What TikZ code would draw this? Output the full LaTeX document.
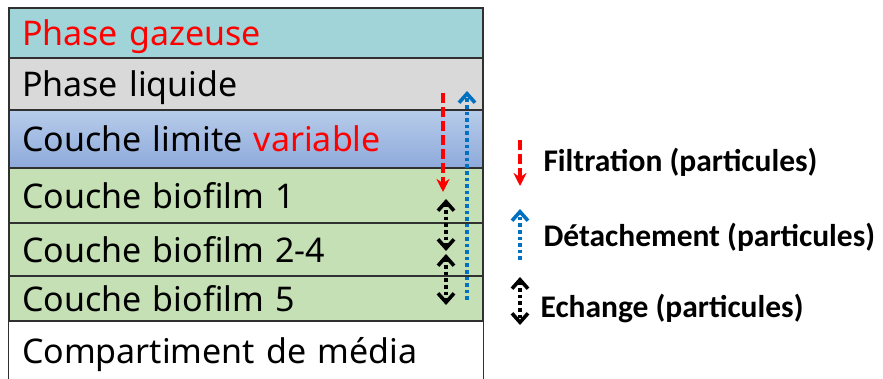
\documentclass[tikz,border=0pt]{standalone}
\usepackage{fontspec}
\setmainfont{Noto Sans}
\newfontfamily\legfont{Carlito}
\usepackage{xcolor}
\usetikzlibrary{arrows.meta}
\definecolor{gazcol}{HTML}{A0D4D8}
\definecolor{liqcol}{HTML}{D9D9D9}
\definecolor{limtop}{HTML}{B7CCEA}
\definecolor{limbot}{HTML}{8EAADB}
\definecolor{biocol}{HTML}{C5E0B4}
\definecolor{filtred}{HTML}{FF0000}
\definecolor{detblue}{HTML}{0070C0}
\definecolor{edgecol}{HTML}{303030}

\begin{document}
\begin{tikzpicture}[x=1pt, y=-1pt,
        layer/.style={draw=edgecol, line width=1.4pt, minimum width=474pt,
                      text width=448pt, inner xsep=13pt, inner ysep=0pt,
                      text height=29pt, text depth=3pt,
                      align=left, font=\fontsize{34}{38}\selectfont},
        leg/.style={anchor=west, font=\legfont\bfseries\fontsize{31.5}{34}\selectfont},
        filt/.style={-{Stealth[length=13pt,width=13pt]}, filtred, line width=4pt,
                     dash pattern=on 10pt off 4pt},
        detach/.style={-{Straight Barb[length=9pt,width=16pt,line width=3.6pt]}, detblue,
                       line width=3.6pt, dash pattern=on 3.6pt off 3pt},
        ech/.style={{Straight Barb[length=9pt,width=16pt,line width=3.6pt]}-{Straight Barb[length=9pt,width=16pt,line width=3.6pt]},
                    black, line width=3.6pt, dash pattern=on 3.6pt off 3pt}
    ]
        \useasboundingbox (0,0) rectangle (883,379);
        % couches
        \node[layer, fill=gazcol, minimum height=50pt] (gaz) at (246,33)
            {\textcolor{filtred}{Phase gazeuse}};
        \node[layer, fill=liqcol, minimum height=52pt] (liq) at (246,84) {Phase liquide};
        \node[layer, top color=limtop, bottom color=limbot, minimum height=58pt] (lim) at (246,139)
            {Couche limite \textcolor{filtred}{variable}};
        \node[layer, fill=biocol, minimum height=55pt] (bioA) at (246,195.5) {Couche biofilm 1};
        \node[layer, fill=biocol, minimum height=53pt] (bioB) at (246,249.5) {Couche biofilm 2-4};
        \node[layer, fill=biocol, minimum height=45pt] (bioC) at (246,298.5) {Couche biofilm 5};
        \node[layer, draw=none, minimum height=58pt] (media) at (246,350) {Compartiment de média};
        \draw[edgecol, line width=1.4pt] (media.north west) -- (media.south west);
        \draw[edgecol, line width=1.4pt] (media.north east) -- (media.south east);
        % flux dans le biofilm
        \coordinate (fA) at (443,93);
        \coordinate (fB) at (443,192);
        \coordinate (dA) at (467,300);
        \coordinate (dB) at (467,91);
        \coordinate (eA) at (446,199);
        \coordinate (eB) at (446,251);
        \coordinate (eC) at (446,254);
        \coordinate (eD) at (446,305);
        \draw[filt] (fA) -- (fB);
        \draw[detach] (dA) -- (dB);
        \draw[ech] (eA) -- (eB);
        \draw[ech] (eC) -- (eD);
        % legende
        \coordinate (lfA) at (520,140);
        \coordinate (lfB) at (520,186);
        \coordinate (ldA) at (520,260);
        \coordinate (ldB) at (520,209);
        \coordinate (leA) at (520,277);
        \coordinate (leB) at (520,325);
        \draw[filt] (lfA) -- (lfB);
        \draw[detach] (ldA) -- (ldB);
        \draw[ech] (leA) -- (leB);
        \node[leg] (filtlab) at (540,162) {Filtration (particules)};
        \node[leg] (detlab) at (540,237) {Détachement (particules)};
        \node[leg] (echlab) at (537,308) {Echange (particules)};
    \end{tikzpicture}
\end{document}
